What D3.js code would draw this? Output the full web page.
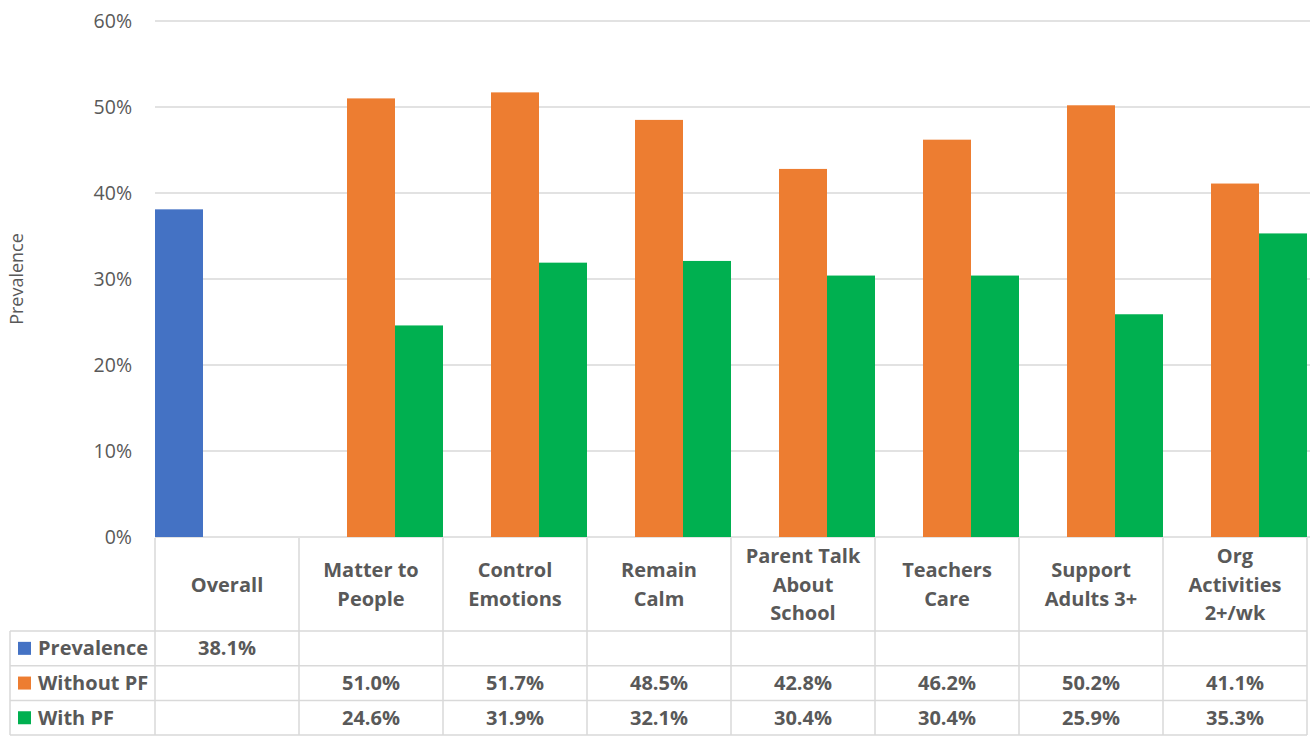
<!DOCTYPE html>
<html>
<head>
<meta charset="utf-8">
<script src="https://cdn.jsdelivr.net/npm/d3@7"></script>
<style>
  body { margin: 0; background: #fff; }
  text { font-family: "Open Sans", "Noto Sans", sans-serif; fill: #595959; }
</style>
</head>
<body>
<svg id="chart" width="1310" height="742"></svg>
<script>
// chart data
const categories = ["Overall", "Matter to People", "Control Emotions", "Remain Calm",
  "Parent Talk About School", "Teachers Care", "Support Adults 3+", "Org Activities 2+/wk"];
const categoryLines = [["Overall"], ["Matter to", "People"], ["Control", "Emotions"], ["Remain", "Calm"],
  ["Parent Talk", "About", "School"], ["Teachers", "Care"], ["Support", "Adults 3+"], ["Org", "Activities", "2+/wk"]];
const seriesNames = ["Prevalence", "Without PF", "With PF"];
const prevalence = [38.1, null, null, null, null, null, null, null];
const withoutPF = [null, 51.0, 51.7, 48.5, 42.8, 46.2, 50.2, 41.1];
const withPF = [null, 24.6, 31.9, 32.1, 30.4, 30.4, 25.9, 35.3];
const yTicks = [0, 10, 20, 30, 40, 50, 60];
const colors = ["#4472c4", "#ed7d31", "#00b050"];

const series = [prevalence, withoutPF, withPF];

const svg = d3.select("#chart");
const plotLeft = 155, plotRight = 1307, plotTop = 21, plotBottom = 537;

const x = d3.scaleBand().domain(categories).range([plotLeft, plotRight]).padding(0);
const xs = d3.scaleBand().domain(seriesNames).range([0, x.bandwidth()]).padding(0);
const y = d3.scaleLinear().domain([0, 60]).range([plotBottom, plotTop]);

// gridlines
svg.append("g").selectAll("line").data(yTicks).join("line")
  .attr("x1", plotLeft).attr("x2", 1310)
  .attr("y1", d => y(d)).attr("y2", d => y(d))
  .attr("stroke", "#d9d9d9").attr("stroke-width", 1.3);

// y tick labels
svg.append("g").selectAll("text").data(yTicks).join("text")
  .attr("x", 132).attr("y", d => y(d) + 7)
  .attr("text-anchor", "end").style("font-size", "19.5px")
  .text(d => d + "%");

svg.append("text")
  .attr("transform", `translate(23, ${(plotTop + plotBottom) / 2}) rotate(-90)`)
  .attr("text-anchor", "middle").style("font-size", "18px")
  .text("Prevalence");

// bars
series.forEach((vals, si) => {
  svg.append("g").selectAll("rect")
    .data(vals.map((v, i) => ({ v, c: categories[i] })).filter(d => d.v !== null))
    .join("rect")
    .attr("x", d => x(d.c) + xs(seriesNames[si]))
    .attr("width", xs.bandwidth())
    .attr("y", d => y(d.v))
    .attr("height", d => y(0) - y(d.v))
    .attr("fill", colors[si]);
});

// data table
const tableTop = plotBottom + 1, headerBottom = 631;
const rowH = 34.7;
const tableLeft = 10;
const grid = svg.append("g").attr("stroke", "#d9d9d9").attr("stroke-width", 1.5);
const tableBottom = headerBottom + rowH * 3;

// vertical lines
categories.forEach(c => {
  grid.append("line").attr("x1", x(c)).attr("x2", x(c)).attr("y1", tableTop).attr("y2", tableBottom);
});
grid.append("line").attr("x1", plotRight).attr("x2", plotRight).attr("y1", tableTop).attr("y2", tableBottom);
grid.append("line").attr("x1", tableLeft).attr("x2", tableLeft).attr("y1", headerBottom).attr("y2", tableBottom);
// horizontal lines
[0, 1, 2, 3].forEach(r => {
  grid.append("line").attr("x1", tableLeft).attr("x2", plotRight)
    .attr("y1", headerBottom + r * rowH).attr("y2", headerBottom + r * rowH);
});

// header labels
const lineH = 28.5;
categories.forEach((c, i) => {
  const lines = categoryLines[i];
  const cy = (tableTop + headerBottom) / 2;
  const t = svg.append("text").attr("text-anchor", "middle")
    .style("font-size", "20px").style("font-weight", "bold");
  lines.forEach((ln, k) => {
    t.append("tspan").attr("x", x(c) + x.bandwidth() / 2)
      .attr("y", cy + (k - (lines.length - 1) / 2) * lineH + 7)
      .text(ln);
  });
});

// rows
series.forEach((vals, si) => {
  const ry = headerBottom + si * rowH;
  svg.append("rect").attr("x", 18).attr("y", ry + rowH / 2 - 6.5).attr("width", 13).attr("height", 13)
    .attr("fill", colors[si]);
  svg.append("text").attr("x", 38).attr("y", ry + rowH / 2 + 7)
    .style("font-size", "20px").style("font-weight", "bold")
    .text(seriesNames[si]);
  svg.append("g").selectAll("text")
    .data(vals.map((v, i) => ({ v, c: categories[i] })).filter(d => d.v !== null))
    .join("text")
    .attr("x", d => x(d.c) + x.bandwidth() / 2)
    .attr("y", ry + rowH / 2 + 7)
    .attr("text-anchor", "middle").style("font-size", "20px").style("font-weight", "bold")
    .text(d => d.v.toFixed(1) + "%");
});
</script>
</body>
</html>
